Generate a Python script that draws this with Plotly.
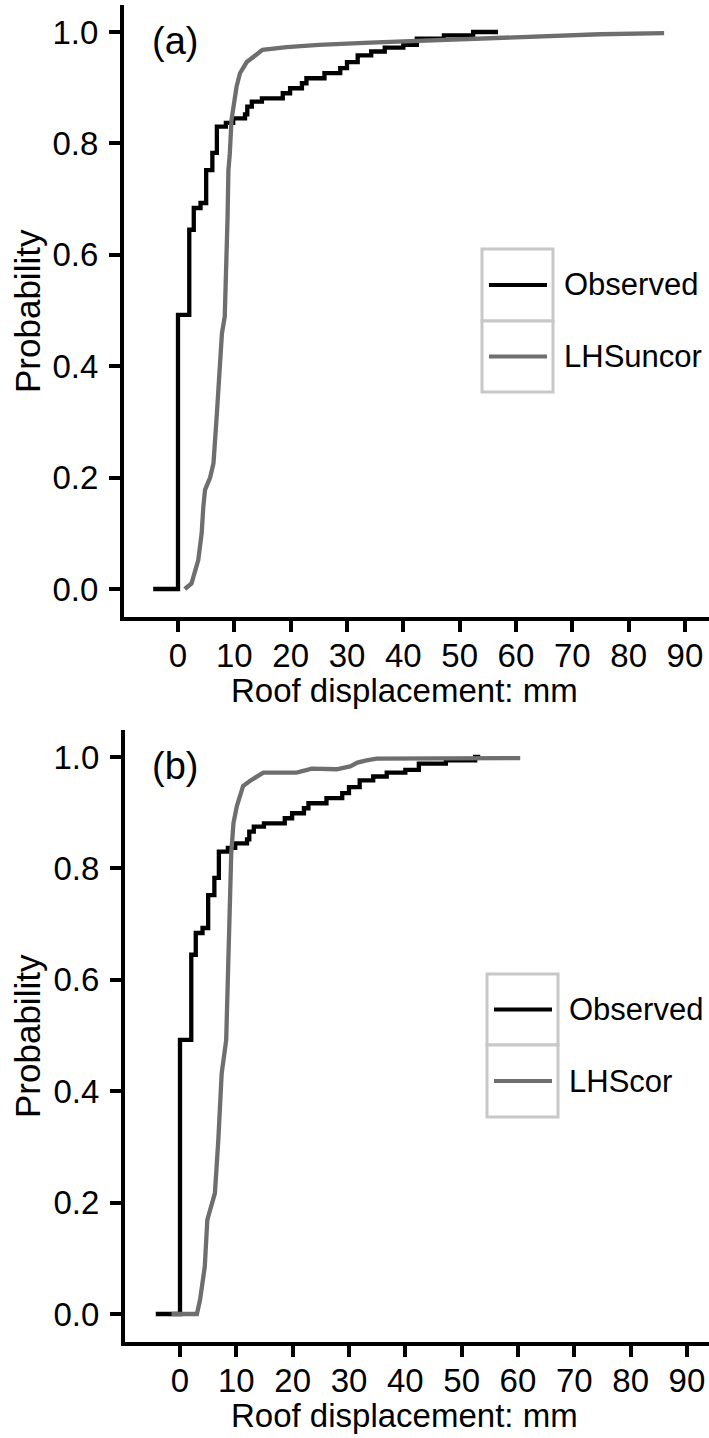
import plotly.graph_objects as go

# ---------------- data ----------------
# Observed empirical CDF: jump positions (mm) and probability after each jump
obs_x = [0.0, 2.0, 2.8, 4.0, 5.0, 6.1, 6.9, 8.5, 9.8, 11.9, 12.3, 13.1, 14.9, 18.6, 19.9,
         22.0, 22.8, 26.0, 28.8, 30.0, 31.9, 34.3, 36.7, 40.0, 42.4, 47.2, 52.4]
obs_p = [0.492, 0.645, 0.684, 0.693, 0.752, 0.783, 0.830, 0.837, 0.845, 0.852, 0.866, 0.875, 0.881, 0.890, 0.899,
         0.908, 0.917, 0.926, 0.935, 0.946, 0.958, 0.965, 0.972, 0.977, 0.988, 0.994, 1.0]
obs_start = [-4.4, -4.3]   # panel (a), panel (b)
obs_end = [56.8, 53.3]

# LHS uncorrelated simulation CDF (panel a)
lhs_uncor_x = [1.2, 2.4, 3.6, 4.2, 4.5, 4.8, 5.7, 6.3, 6.9, 7.5, 7.8, 8.3, 8.6, 8.8, 8.95, 9.2, 9.5,
               9.8, 10.4, 11.0, 12.2, 14.0, 15.0, 19.3, 25.0, 34.1, 39.4, 51.3, 63.1, 74.9, 86.3]
lhs_uncor_p = [0.0, 0.01, 0.052, 0.10, 0.148, 0.178, 0.20, 0.226, 0.315, 0.411, 0.459, 0.489, 0.579, 0.668, 0.752, 0.782, 0.842,
               0.866, 0.902, 0.926, 0.946, 0.960, 0.968, 0.973, 0.977, 0.981, 0.983, 0.988, 0.993, 0.996, 0.998]

# LHS correlated simulation CDF (panel b)
lhs_cor_x = [-1.5, 3.0, 3.55, 4.4, 4.85, 5.3, 6.2, 6.8, 7.4, 8.2, 8.4, 8.6, 8.85, 9.0, 9.1, 9.5, 10.1,
             11.2, 12.4, 14.8, 20.7, 23.4, 27.8, 30.2, 31.5, 33.1, 34.9, 60.4]
lhs_cor_p = [0.0, 0.0, 0.025, 0.085, 0.169, 0.187, 0.217, 0.312, 0.432, 0.492, 0.564, 0.60, 0.684, 0.76, 0.828, 0.882, 0.912,
             0.948, 0.957, 0.972, 0.972, 0.979, 0.978, 0.983, 0.990, 0.994, 0.997, 0.998]

y_ticks = [0.0, 0.2, 0.4, 0.6, 0.8, 1.0]
x_ticks = [0, 10, 20, 30, 40, 50, 60, 70, 80, 90]
panel_labels = ["(a)", "(b)"]
series_names = [["Observed", "LHSuncor"], ["Observed", "LHScor"]]

# ---------------- layout helpers ----------------
W, H = 709, 1438
FONT = "Liberation Sans, Arial, sans-serif"
GREY = "#6e6e6e"


def px(xp):
    return xp / W


def py(yp):
    return 1 - yp / H


fig = go.Figure()

# Panel geometry (pixels): left, top, bottom of plotting area; x=0 pixel; y=0 and y=1 pixels
panels = [
    dict(left=124, top=5, bottom=617, x0=178, p0=589, p1=32),
    dict(left=125, top=730, bottom=1342, x0=180, p0=1314, p1=757),
]
xscale = 5.633  # pixels per mm

gray_x = [lhs_uncor_x, lhs_cor_x]
gray_p = [lhs_uncor_p, lhs_cor_p]

for i, pn in enumerate(panels):
    xa = "x" if i == 0 else "x2"
    ya = "y" if i == 0 else "y2"
    ox = [obs_start[i]] + obs_x + [obs_end[i]]
    op = [0.0] + obs_p + [obs_p[-1]]
    fig.add_trace(go.Scatter(x=ox, y=op, mode="lines", line=dict(color="black", width=4.3, shape="hv"),
                             name=series_names[i][0], xaxis=xa, yaxis=ya, showlegend=False))
    fig.add_trace(go.Scatter(x=gray_x[i], y=gray_p[i], mode="lines", line=dict(color=GREY, width=4.3),
                             name=series_names[i][1], xaxis=xa, yaxis=ya, showlegend=False))

axis_common = dict(showline=True, linecolor="black", linewidth=4, ticks="outside", ticklen=11,
                   tickwidth=4, tickcolor="black", showgrid=False, zeroline=False,
                   tickfont=dict(family=FONT, size=33, color="black"))

layout = dict(width=W, height=H, margin=dict(l=0, r=0, t=0, b=0), paper_bgcolor="white",
              plot_bgcolor="white", showlegend=False)

for i, pn in enumerate(panels):
    sfx = "" if i == 0 else "2"
    ppu = (pn["p0"] - pn["p1"])
    xr = [(pn["left"] - pn["x0"]) / xscale, (W - pn["x0"]) / xscale]
    yr = [(pn["p0"] - pn["bottom"]) / ppu, (pn["p0"] - pn["top"]) / ppu]
    layout["xaxis" + sfx] = dict(axis_common, domain=[px(pn["left"]), 1.0], range=xr,
                                 tickvals=x_ticks, anchor="y" + sfx, ticklabelstandoff=-5)
    layout["yaxis" + sfx] = dict(axis_common, domain=[py(pn["bottom"]), py(pn["top"])], range=yr,
                                 tickvals=y_ticks, ticktext=["%.1f" % v for v in y_ticks],
                                 anchor="x" + sfx, ticklabelstandoff=4)

fig.update_layout(**layout)

annotations = []
shapes = []
legend_geo = [
    dict(l=482, r=553, t=249, m=321, b=392, tx=562),
    dict(l=487, r=558, t=974, m=1045, b=1117, tx=567),
]
for i, pn in enumerate(panels):
    # panel label
    annotations.append(dict(x=px(150), y=py(pn["top"] + 36), xref="paper", yref="paper", text=panel_labels[i],
                            showarrow=False, xanchor="left", yanchor="middle",
                            font=dict(family=FONT, size=38, color="black")))
    # axis titles
    annotations.append(dict(x=px(404), y=py(pn["bottom"] + 73), xref="paper", yref="paper",
                            text="Roof displacement: mm", showarrow=False, xanchor="center", yanchor="middle",
                            font=dict(family=FONT, size=33, color="black")))
    annotations.append(dict(x=px(27), y=py((pn["top"] + pn["bottom"]) / 2), xref="paper", yref="paper",
                            text="Probability", textangle=-90, showarrow=False, xanchor="center",
                            yanchor="middle", font=dict(family=FONT, size=35, color="black")))
    # legend
    g = legend_geo[i]
    for (t0, t1) in [(g["t"], g["m"]), (g["m"], g["b"])]:
        shapes.append(dict(type="rect", xref="paper", yref="paper", x0=px(g["l"]), x1=px(g["r"]),
                           y0=py(t1), y1=py(t0), line=dict(color="#c8c8c8", width=3),
                           fillcolor="white", layer="above"))
    for k, (col, t0, t1) in enumerate([("black", g["t"], g["m"]), (GREY, g["m"], g["b"])]):
        yc = (t0 + t1) / 2
        shapes.append(dict(type="line", xref="paper", yref="paper", x0=px(g["l"] + 7), x1=px(g["r"] - 6),
                           y0=py(yc), y1=py(yc), line=dict(color=col, width=4), layer="above"))
        annotations.append(dict(x=px(g["tx"]), y=py(yc), xref="paper", yref="paper",
                                text=series_names[i][k], showarrow=False, xanchor="left", yanchor="middle",
                                font=dict(family=FONT, size=31, color="black")))

fig.update_layout(annotations=annotations, shapes=shapes)
fig.write_html("out.html")
